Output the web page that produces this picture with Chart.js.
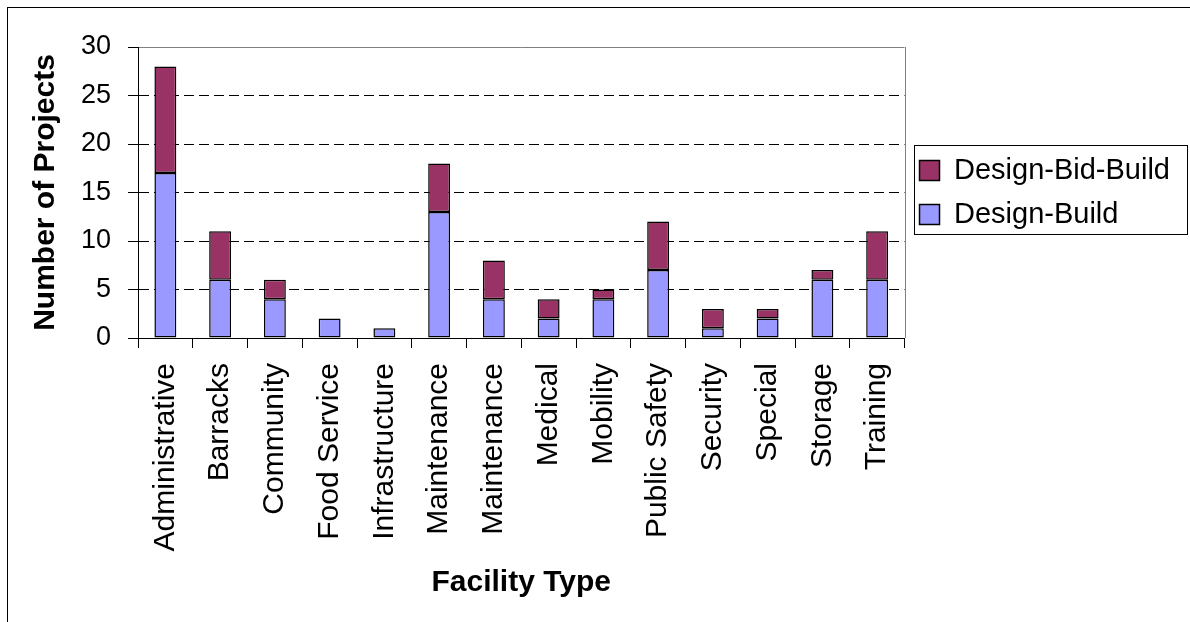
<!DOCTYPE html>
<html lang="en">
<head>
<meta charset="UTF-8">
<title>Projects by Facility Type</title>
<script src="https://cdn.jsdelivr.net/npm/chart.js"></script>
<style>
  html, body { margin: 0; padding: 0; background: #fff; overflow: hidden; }
  /* the thin outer frame of the original picture (only top and left edges are visible) */
  #frame { position: absolute; left: 7px; top: 7px; width: 1182px; height: 614px;
           border-left: 1px solid #000; border-top: 1px solid #000; }
  #projectsChart { position: absolute; left: 0; top: 0; }
</style>
</head>
<body>
<div id="frame"></div>
<canvas id="projectsChart" width="1190" height="622"></canvas>

<script>
// data
const facilityTypes = ['Administrative', 'Barracks', 'Community', 'Food Service', 'Infrastructure',
    'Maintenance', 'Maintenance', 'Medical', 'Mobility', 'Public Safety',
    'Security', 'Special', 'Storage', 'Training'];
const designBuild    = [17, 6, 4, 2, 1, 13, 4, 2, 4, 7, 1, 2, 6, 6];
const designBidBuild = [11, 5, 2, 0, 0, 5, 4, 2, 1, 5, 2, 1, 1, 5];
const yTicks = [0, 5, 10, 15, 20, 25, 30];

const FONT = "'Liberation Sans', Arial, sans-serif";

// gray right edge of the plot and the box round the legend
const frameAndLegendBox = {
    id: 'frameAndLegendBox',
    afterDraw(chart) {
        const c = chart.ctx;
        const a = chart.chartArea;
        c.save();
        c.lineWidth = 1;
        c.strokeStyle = '#808080';
        c.beginPath();
        c.moveTo(Math.round(a.right) + 0.5, Math.round(a.top));
        c.lineTo(Math.round(a.right) + 0.5, Math.round(a.bottom));
        c.stroke();

        const boxes = chart.legend.legendHitBoxes;
        if (boxes && boxes.length) {
            let l = Infinity, t = Infinity, r = -Infinity, b = -Infinity;
            boxes.forEach(h => {
                l = Math.min(l, h.left); t = Math.min(t, h.top);
                r = Math.max(r, h.left + h.width); b = Math.max(b, h.top + h.height);
            });
            c.strokeStyle = '#000';
            c.strokeRect(Math.round(l - 6) + 0.5, Math.round(t - 11) + 0.5,
                         Math.round(r - l + 23), Math.round(b - t + 16));
        }
        c.restore();
    }
};

const ctx = document.getElementById('projectsChart').getContext('2d');
const projectsChart = new Chart(ctx, {
    type: 'bar',
    data: {
        labels: facilityTypes,
        datasets: [{
            label: 'Design-Build',
            data: designBuild,
            backgroundColor: '#9999FF',
            borderColor: '#000',
            borderWidth: 1.5,
            borderSkipped: false
        }, {
            label: 'Design-Bid-Build',
            data: designBidBuild,
            backgroundColor: '#993366',
            borderColor: '#000',
            borderWidth: 1.5,
            borderSkipped: false
        }]
    },
    options: {
        responsive: false,
        animation: false,
        layout: { padding: { left: 28, top: 47, right: 10, bottom: 0 } },
        datasets: { bar: { barPercentage: 0.4, categoryPercentage: 1.0 } },
        plugins: {
            legend: {
                position: 'right',
                fullSize: false,
                reverse: true,
                labels: {
                    font: { family: FONT, size: 29 },
                    color: '#000',
                    boxWidth: 20,
                    boxHeight: 20,
                    padding: 15
                }
            },
            tooltip: { enabled: false }
        },
        scales: {
            x: {
                stacked: true,
                offset: true,
                grid: {
                    offset: true,
                    drawOnChartArea: false,
                    drawTicks: true,
                    tickLength: 10,
                    tickColor: '#000',
                    color: '#000'
                },
                border: { color: '#000', width: 1 },
                ticks: {
                    font: { family: FONT, size: 30 },
                    color: '#000',
                    minRotation: 90,
                    maxRotation: 90,
                    autoSkip: false,
                    padding: 15
                },
                title: {
                    display: true,
                    text: 'Facility Type',
                    font: { family: FONT, size: 30, weight: 'bold' },
                    color: '#000',
                    padding: { top: 0, bottom: 21 }
                },
                afterFit(scale) { scale.height = 284; }
            },
            y: {
                stacked: true,
                min: 0,
                max: 30,
                afterBuildTicks(scale) { scale.ticks = yTicks.map(v => ({ value: v })); },
                grid: {
                    color: c => c.tick.value === 0 ? 'rgba(0,0,0,0)' : (c.tick.value === 30 ? '#808080' : '#000'),
                    tickColor: '#000',
                    tickLength: 10,
                    tickBorderDash: []
                },
                border: {
                    color: '#000',
                    width: 1,
                    dash: c => (c.tick && c.tick.value === 30) ? [] : [10, 5]
                },
                ticks: {
                    font: { family: FONT, size: 27 },
                    color: '#000',
                    padding: 17
                },
                title: {
                    display: true,
                    text: 'Number of Projects',
                    font: { family: FONT, size: 30, weight: 'bold' },
                    color: '#000',
                    padding: { top: 0, bottom: 0 }
                },
                afterFit(scale) { scale.width = 110; }
            }
        }
    },
    plugins: [frameAndLegendBox]
});
</script>
</body>
</html>
